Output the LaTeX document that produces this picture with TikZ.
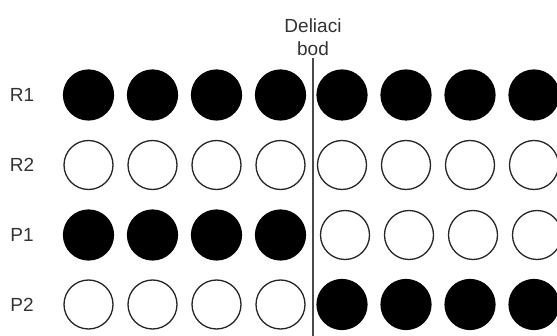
\documentclass[tikz,border=0pt]{standalone}
\usepackage{fontspec}
\setmainfont{Liberation Sans}
\definecolor{txt}{HTML}{333333}
\definecolor{divline}{HTML}{4A4A4A}
\begin{document}
\begin{tikzpicture}[x=1pt,y=-1pt,
  full/.style={circle,minimum size=50pt,inner sep=0pt,draw=black,line width=1.2pt,fill=black},
  empty/.style={circle,minimum size=49pt,inner sep=0pt,draw=black!85,line width=1.3pt,fill=white},
  lbl/.style={text=txt,inner sep=0pt,font=\fontsize{19}{23}\selectfont},
  divider/.style={draw=divline,line width=1.6pt}]
\useasboundingbox (0,0) rectangle (557,336);
% row labels
\node[lbl] (r1) at (22,95) {R1};
\node[lbl] (r2) at (22,165) {R2};
\node[lbl] (p1) at (22,235) {P1};
\node[lbl] (p2) at (22,304.5) {P2};
% split point label
\node[lbl,anchor=base] (t1) at (313,33) {Deliaci};
\node[lbl,anchor=base] (t2) at (313,56) {bod};
\coordinate (ltop) at (312.7,58);
\coordinate (lbot) at (312.7,336);
% circles
\foreach \i/\x in {1/88.5,2/152.5,3/216.5,4/280.5}{
  \node[full]  (r1l\i) at (\x,95) {};
  \node[empty] (r2l\i) at (\x,165) {};
  \node[full]  (p1l\i) at (\x,235) {};
  \node[empty] (p2l\i) at (\x,304.5) {};
}
\foreach \i/\x in {1/342,2/406,3/470,4/534}{
  \node[full]  (r1r\i) at (\x,95) {};
  \node[empty] (r2r\i) at (\x,165) {};
  \node[empty] (p1r\i) at (\x+3,235) {};
  \node[full]  (p2r\i) at (\x,304.5) {};
}
\draw[divider] (ltop) -- (lbot);
\end{tikzpicture}
\end{document}
